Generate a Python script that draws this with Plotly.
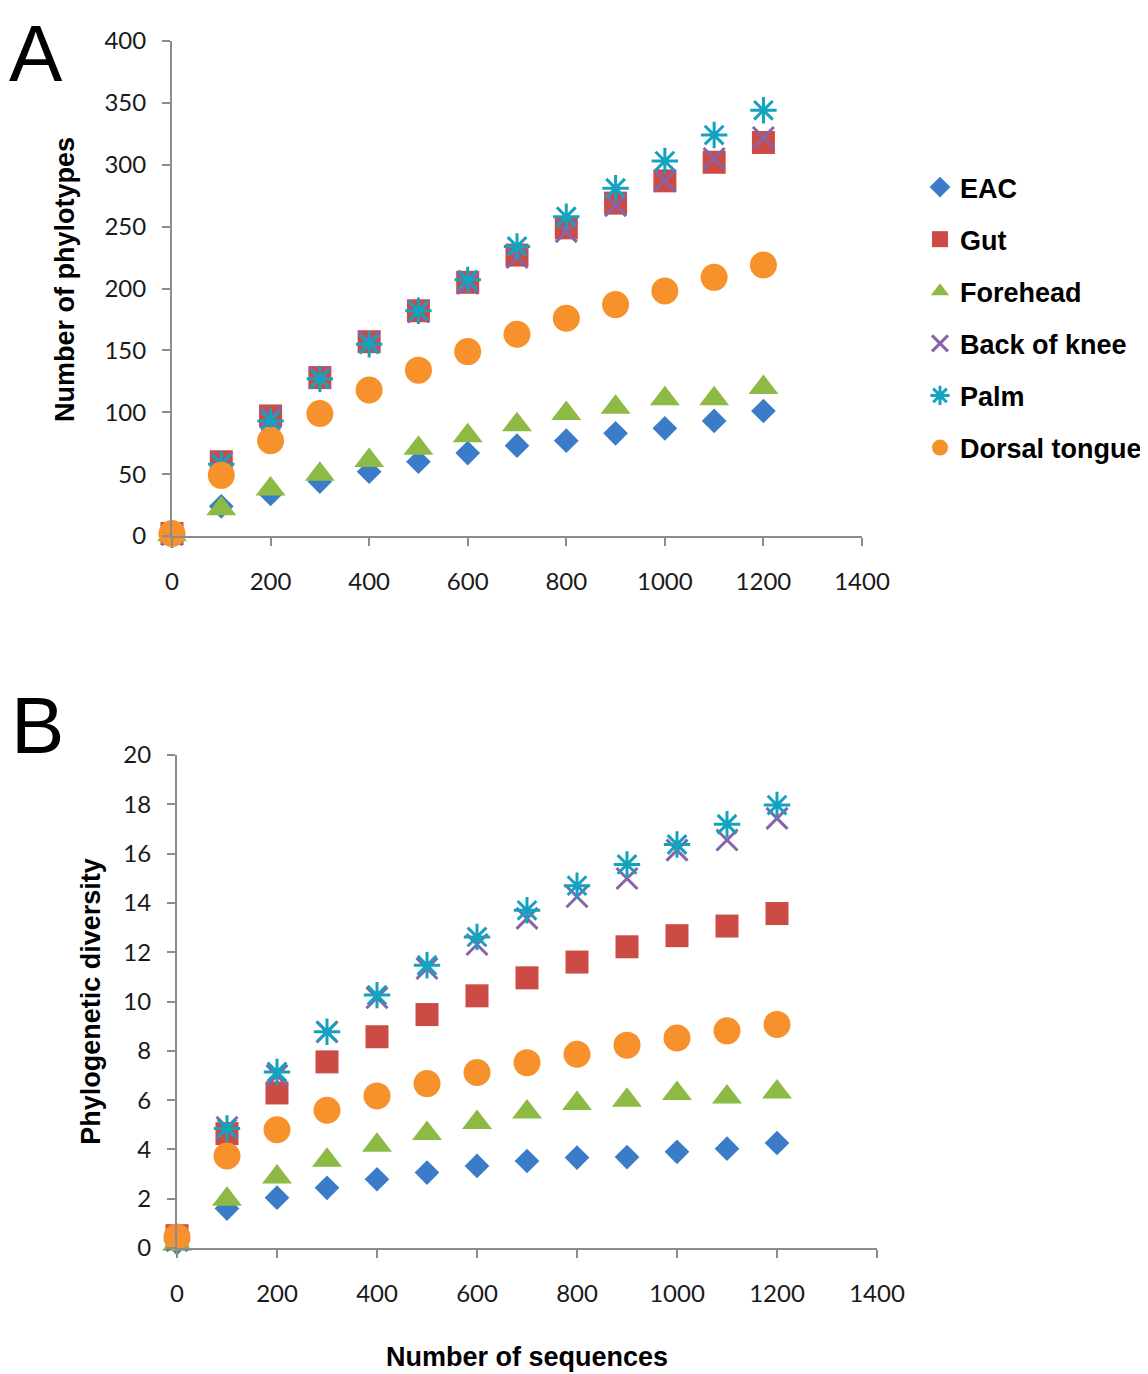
import plotly.graph_objects as go

seq = [0, 100, 200, 300, 400, 500, 600, 700, 800, 900, 1000, 1100, 1200]
names = ["EAC", "Gut", "Forehead", "Back of knee", "Palm", "Dorsal tongue"]

# Panel A: number of phylotypes
phylo_eac = [1, 24, 34, 44, 52, 60, 67, 73, 77, 83, 87, 93, 101]
phylo_gut = [2, 60, 97, 128, 157, 182, 205, 227, 249, 269, 287, 302, 318]
phylo_forehead = [1, 22, 38, 50, 61, 71, 81, 90, 99, 104, 111, 111, 120]
phylo_knee = [1, 59, 96, 128, 157, 181, 204, 225, 246, 267, 287, 305, 322]
phylo_palm = [1, 58, 93, 127, 155, 182, 207, 234, 258, 281, 303, 324, 344]
phylo_tongue = [2, 49, 77, 99, 118, 134, 149, 163, 176, 187, 198, 209, 219]

# Panel B: phylogenetic diversity
pd_eac = [0.2, 1.6, 2.04, 2.44, 2.79, 3.06, 3.33, 3.53, 3.67, 3.69, 3.9, 4.03, 4.26]
pd_gut = [0.5, 4.64, 6.29, 7.55, 8.57, 9.47, 10.23, 10.96, 11.6, 12.22, 12.67, 13.06, 13.57]
pd_forehead = [0.15, 1.98, 2.88, 3.56, 4.17, 4.64, 5.09, 5.52, 5.86, 5.99, 6.27, 6.13, 6.33]
pd_knee = [0.3, 4.9, 7.0, 8.77, 10.15, 11.34, 12.31, 13.37, 14.25, 14.99, 16.14, 16.55, 17.43]
pd_palm = [0.3, 4.85, 7.14, 8.77, 10.26, 11.47, 12.62, 13.7, 14.7, 15.56, 16.37, 17.19, 17.97]
pd_tongue = [0.45, 3.73, 4.8, 5.59, 6.17, 6.67, 7.12, 7.52, 7.86, 8.23, 8.52, 8.81, 9.07]

phylo = [phylo_eac, phylo_gut, phylo_forehead, phylo_knee, phylo_palm, phylo_tongue]
pdiv = [pd_eac, pd_gut, pd_forehead, pd_knee, pd_palm, pd_tongue]

colors = ["#3b7cc8", "#cc4b44", "#8cba45", "#8a62a8", "#14a3be", "#f7912b"]
styles = [
    dict(symbol="diamond", size=19),
    dict(symbol="square", size=23),
    dict(symbol="triangle-up", size=26),
    dict(symbol="x-thin-open", size=21),
    dict(symbol="asterisk-open", size=22),
    dict(symbol="circle", size=27),
]

fig = go.Figure()
for panel, data in ((1, phylo), (2, pdiv)):
    for i, name in enumerate(names):
        st = styles[i]
        marker = dict(symbol=st["symbol"], size=st["size"], color=colors[i])
        if "open" in st["symbol"]:
            marker["line"] = dict(color=colors[i], width=3)
        else:
            marker["line"] = dict(width=0)
        fig.add_trace(go.Scatter(
            x=seq, y=data[i], mode="markers", name=name, marker=marker,
            legendgroup=name, showlegend=(panel == 1), cliponaxis=False,
            xaxis="x" if panel == 1 else "x2", yaxis="y" if panel == 1 else "y2",
        ))

# page body has an 8px margin, so the figure is drawn 8px in from the window edge
W, H = 1140, 1366
tickfont = dict(family="Lato, Open Sans, sans-serif", size=24, color="#1a1a1a")
titlefont = dict(family="Liberation Sans, Arial, sans-serif", size=27, color="black")
letterfont = dict(family="Liberation Sans, Arial, sans-serif", size=80, color="black")
axis_common = dict(
    showline=True, linecolor="#8c8c8c", linewidth=2, ticks="outside",
    ticklen=8, tickwidth=2, tickcolor="#8c8c8c", showgrid=False, zeroline=False,
    tickfont=tickfont, automargin=False,
)

fig.update_layout(
    width=W, height=H, autosize=False,
    margin=dict(l=0, r=0, t=0, b=0, pad=0),
    paper_bgcolor="white", plot_bgcolor="white",
    xaxis=dict(axis_common, domain=[164 / W, 854 / W], range=[0, 1400], dtick=200,
               anchor="y", ticklabelstandoff=15),
    yaxis=dict(axis_common, domain=[1 - 528 / H, 1 - 33 / H], range=[0, 400], dtick=50,
               anchor="x", ticklabelstandoff=11),
    xaxis2=dict(axis_common, domain=[169 / W, 869 / W], range=[0, 1400], dtick=200,
                anchor="y2", ticklabelstandoff=15,
                title=dict(text="<b>Number of sequences</b>", font=titlefont, standoff=41)),
    yaxis2=dict(axis_common, domain=[1 - 1240 / H, 1 - 747 / H], range=[0, 20], dtick=2,
                anchor="x2", ticklabelstandoff=11,
                title=dict(text="<b>Phylogenetic diversity</b>", font=titlefont, standoff=15)),
    legend=dict(
        x=912 / W, y=1 - 155 / H, xanchor="left", yanchor="top",
        font=dict(family="Liberation Sans, Arial, sans-serif", size=27, color="black", weight="bold"),
        traceorder="grouped", tracegroupgap=14, itemwidth=30,
        bgcolor="rgba(0,0,0,0)",
    ),
    annotations=[
        dict(text="<b>Number of phylotypes</b>", x=57 / W, y=1 - 272 / H, xref="paper", yref="paper",
             showarrow=False, textangle=-90, xanchor="center", yanchor="middle", font=titlefont),
        dict(text="A", x=28 / W, y=1.0, xref="paper", yref="paper", showarrow=False,
             xanchor="center", yanchor="top", borderpad=0, font=letterfont),
        dict(text="B", x=29 / W, y=1 - 717 / H, xref="paper", yref="paper", showarrow=False,
             xanchor="center", yanchor="middle", font=letterfont),
    ],
)

fig.write_html("out.html")
